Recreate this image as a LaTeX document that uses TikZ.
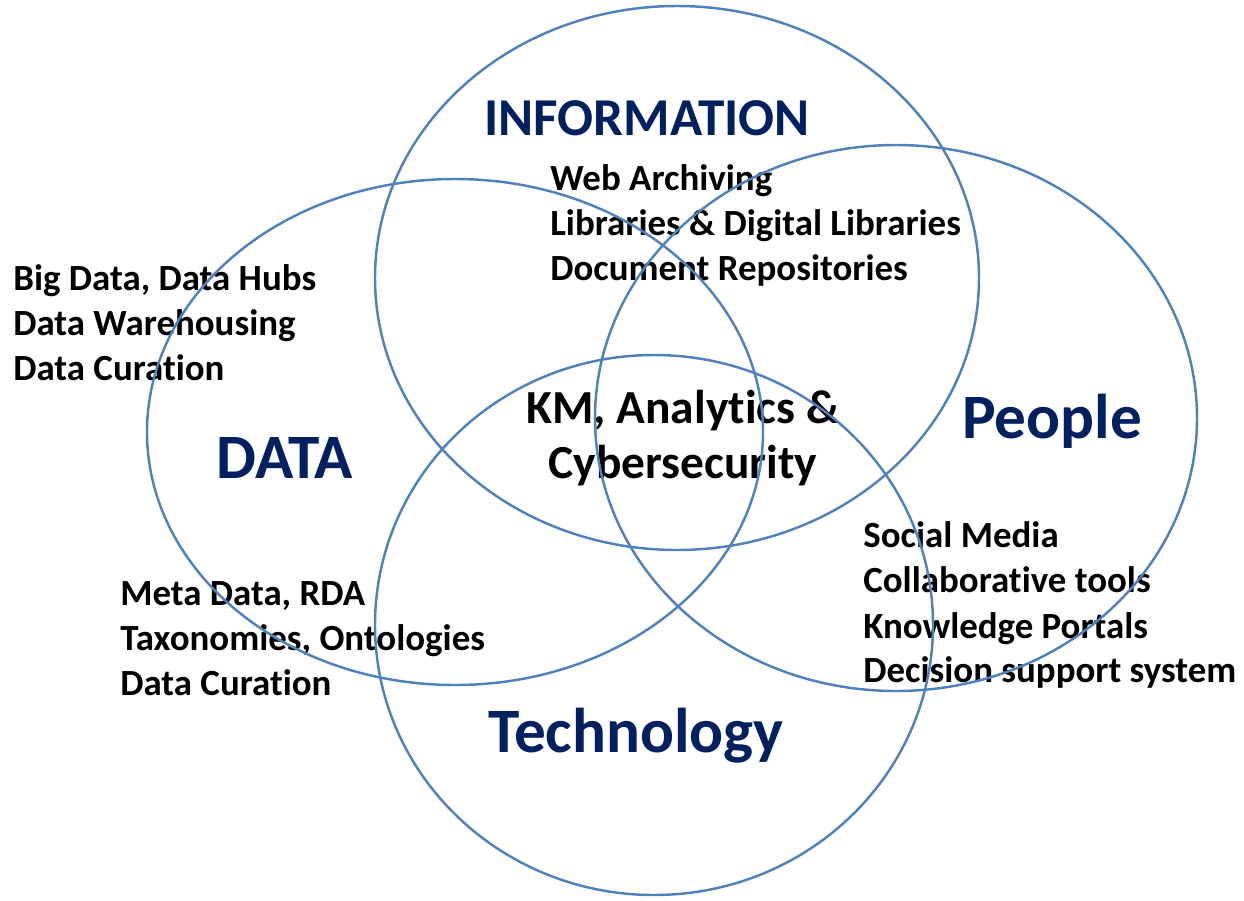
\documentclass[tikz,border=0pt]{standalone}
\usepackage{fontspec}
\setmainfont{Carlito}[Ligatures=NoCommon]
\definecolor{ringblue}{HTML}{4F81BD}
\definecolor{titleblue}{HTML}{002060}
\begin{document}
\begin{tikzpicture}[x=0.02cm, y=-0.02cm]
			\tikzstyle{ring}  = [draw=ringblue, line width=1.4pt]
			\tikzstyle{item}  = [anchor=base west, inner sep=0pt, font=\fontsize{21}{24}\selectfont\bfseries]
			\tikzstyle{title} = [anchor=base, inner sep=0pt, text=titleblue, font=\fontsize{36}{40}\selectfont\bfseries]
			\tikzstyle{core}  = [anchor=base, inner sep=0pt, font=\fontsize{27}{32}\selectfont\bfseries]

			\useasboundingbox (0,0) rectangle (1244,900);

			% titles
			\node[title, font=\fontsize{30.3}{36}\selectfont\bfseries] (information) at (647,135) {INFORMATION};
			\node[title] (data) at (285,478) {DATA};
			\node[title] (people) at (1052,438) {People};
			\node[title] (technology) at (636,752) {Technology};

			% centre
			\node[core] (km) at (683,423) {KM, Analytics \&};
			\node[core] (cyber) at (683,478) {Cybersecurity};

			% lists
			\foreach \name/\text/\y in {web/{Web Archiving}/190, lib/{Libraries \& Digital Libraries}/235, repo/{Document Repositories}/280}
				\node[item] (\name) at (550,\y) {\text};

			\foreach \name/\text/\y in {big/{Big Data, Data Hubs}/290, ware/{Data Warehousing}/335, cur/{Data Curation}/380}
				\node[item] (\name) at (13,\y) {\text};

			\foreach \name/\text/\y in {meta/{Meta Data, RDA}/605, tax/{Taxonomies, Ontologies}/650, cur2/{Data Curation}/695}
				\node[item] (\name) at (120,\y) {\text};

			\foreach \name/\text/\y in {soc/{Social Media}/547, col/{Collaborative tools}/592, port/{Knowledge Portals}/638, dss/{Decision support system}/682}
				\node[item] (\name) at (863,\y) {\text};

			% rings
			\draw[ring] (677,278) ellipse [x radius=302, y radius=272];
			\draw[ring] (455,432) ellipse [x radius=308, y radius=253];
			\draw[ring] (896,418) ellipse [x radius=301, y radius=273];
			\draw[ring] (654,625) ellipse [x radius=279, y radius=270];
		\end{tikzpicture}
\end{document}
